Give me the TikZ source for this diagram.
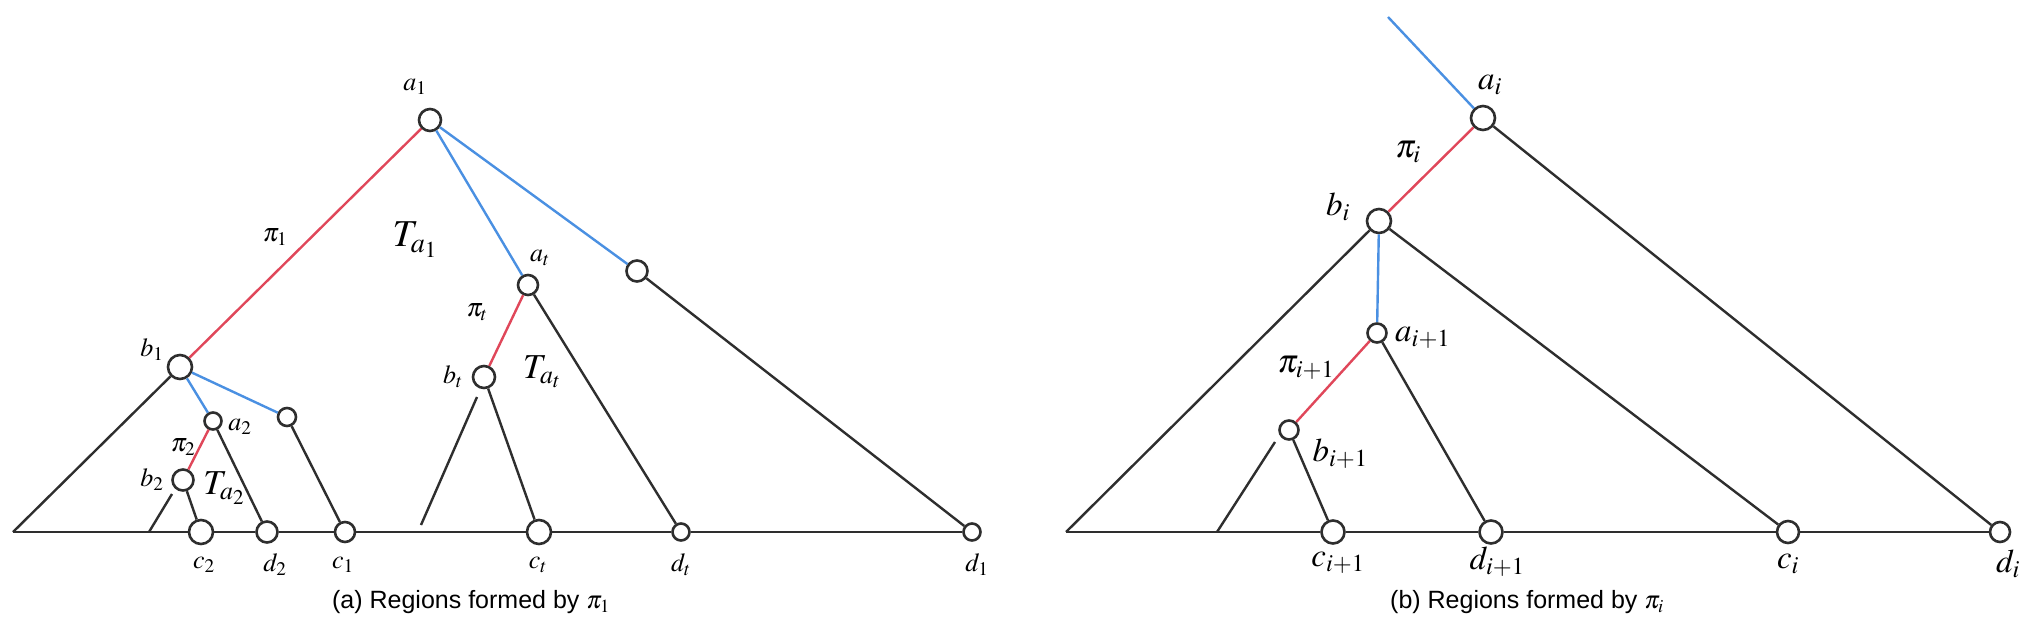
\documentclass[tikz,border=0pt]{standalone}
\usepackage[no-math]{fontspec}
\usepackage{mathptmx}
\setmainfont{Liberation Serif}
\newfontfamily\capfont{Liberation Sans}
\definecolor{ink}{HTML}{2E2E2E}
\definecolor{pired}{HTML}{E0475A}
\definecolor{skyb}{HTML}{4A90E2}
\tikzset{
  vtx/.style={circle, draw=ink, line width=2.6pt, fill=white, inner sep=0pt, minimum size=#1},
  edge/.style={draw=ink, line width=2.4pt},
  redge/.style={draw=pired, line width=2.4pt},
  bedge/.style={draw=skyb, line width=2.4pt},
  lblL/.style={font=\fontsize{26}{30}\selectfont, inner sep=0pt},
  lblR/.style={font=\fontsize{33}{38}\selectfont, inner sep=0pt},
  lblT/.style={font=\fontsize{38}{44}\selectfont, inner sep=0pt},
  lblM/.style={font=\fontsize{35}{40}\selectfont, inner sep=0pt},
  captxt/.style={font=\capfont\fontsize{25}{30}\selectfont, inner sep=0pt}
}
\begin{document}
\begin{tikzpicture}[x=1pt,y=-1pt]
\useasboundingbox[fill=white] (0,0) rectangle (2034,632);
% ---------- left panel ----------
\node[vtx=22] (a1) at (430,120) {};
\node[vtx=24] (b1) at (180,367) {};
\node[vtx=17] (a2) at (213,421) {};
\node[vtx=18] (u1) at (287,417) {};
\node[vtx=21] (b2) at (183,480) {};
\node[vtx=24] (c2) at (201,532) {};
\node[vtx=21] (d2) at (267,532) {};
\node[vtx=20] (c1) at (345,532) {};
\node[vtx=20] (at) at (528,285) {};
\node[vtx=21] (u2) at (637,271) {};
\node[vtx=22] (bt) at (484,377) {};
\node[vtx=24] (ct) at (539,532) {};
\node[vtx=17] (dt) at (681,532) {};
\node[vtx=17] (d1) at (972,532) {};
\coordinate (L0) at (13,532);
\coordinate (s1a) at (172,494);
\coordinate (s1b) at (149,532);
\coordinate (s2a) at (477,397);
\coordinate (s2b) at (421,525);

\draw[edge] (L0) -- (c2) -- (d2) -- (c1) -- (ct) -- (dt) -- (d1);
\draw[redge] (b1) -- (a1);
\draw[bedge] (a1) -- (at);
\draw[bedge] (a1) -- (u2);
\draw[bedge] (b1) -- (a2);
\draw[bedge] (b1) -- (u1);
\draw[redge] (a2) -- (b2);
\draw[redge] (at) -- (bt);
\draw[edge] (b1) -- (L0);
\draw[edge] (b2) -- (c2);
\draw[edge] (a2) -- (d2);
\draw[edge] (u1) -- (c1);
\draw[edge] (bt) -- (ct);
\draw[edge] (at) -- (dt);
\draw[edge] (u2) -- (d1);
\draw[edge] (s1a) -- (s1b);
\draw[edge] (s2a) -- (s2b);

\node[lblL] (la1) at (415,87) {$a_1$};
\node[lblL] (lb1) at (152,350) {$b_1$};
\node[lblL] (lp1) at (275,237) {$\pi_1$};
\node[lblT] (lT1) at (415,240) {$T_{a_1}$};
\node[lblL] (lat) at (540,258) {$a_t$};
\node[lblL] (lpt) at (477,312) {$\pi_t$};
\node[lblL] (lbt) at (453,377) {$b_t$};
\node[lblM] (lTt) at (542,372) {$T_{a_t}$};
\node[lblL] (la2) at (240,427) {$a_2$};
\node[lblL] (lp2) at (183,447) {$\pi_2$};
\node[lblL] (lb2) at (152,480) {$b_2$};
\node[lblM] (lT2) at (224,488) {$T_{a_2}$};
\node[lblL] (lc2) at (204,565) {$c_2$};
\node[lblL] (ld2) at (275,565) {$d_2$};
\node[lblL] (lc1) at (343,565) {$c_1$};
\node[lblL] (lct) at (538,565) {$c_t$};
\node[lblL] (ldt) at (681,565) {$d_t$};
\node[lblL] (ld1) at (977,565) {$d_1$};
\node[captxt] (capa) at (471,602) {(a) Regions formed by $\pi_1$};

% ---------- right panel ----------
\node[vtx=24] (ai) at (1483,118) {};
\node[vtx=24] (bi) at (1379,221) {};
\node[vtx=19] (a3) at (1377,333) {};
\node[vtx=19] (b3) at (1289,430) {};
\node[vtx=23] (c3) at (1333,532) {};
\node[vtx=23] (d3) at (1491,532) {};
\node[vtx=22] (ci) at (1788,532) {};
\node[vtx=20] (di) at (2000,532) {};
\coordinate (R0) at (1066,532);
\coordinate (T0) at (1388,17);
\coordinate (s3a) at (1275,442);
\coordinate (s3b) at (1217,532);

\draw[edge] (R0) -- (c3) -- (d3) -- (ci) -- (di);
\draw[bedge] (T0) -- (ai);
\draw[redge] (bi) -- (ai);
\draw[bedge] (bi) -- (a3);
\draw[redge] (a3) -- (b3);
\draw[edge] (bi) -- (R0);
\draw[edge] (bi) -- (ci);
\draw[edge] (ai) -- (di);
\draw[edge] (a3) -- (d3);
\draw[edge] (b3) -- (c3);
\draw[edge] (s3a) -- (s3b);

\node[lblR] (lai) at (1490,85) {$a_i$};
\node[lblR] (lpi) at (1408,152) {$\pi_i$};
\node[lblR] (lbi) at (1338,207) {$b_i$};
\node[lblR, anchor=west] (la3) at (1395,338) {$a_{i+1}$};
\node[lblR] (lp3) at (1306,368) {$\pi_{i+1}$};
\node[lblR] (lb3) at (1340,454) {$b_{i+1}$};
\node[lblR] (lc3) at (1338,563) {$c_{i+1}$};
\node[lblR] (ld3) at (1497,562) {$d_{i+1}$};
\node[lblR] (lci) at (1788,564) {$c_i$};
\node[lblR] (ldi) at (2008,564) {$d_i$};
\node[captxt] (capb) at (1527,602) {(b) Regions formed by $\pi_i$};
\end{tikzpicture}
\end{document}
